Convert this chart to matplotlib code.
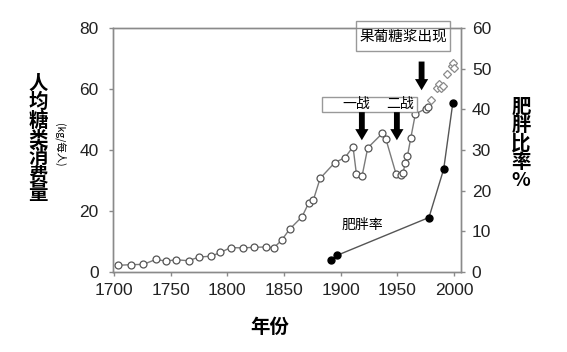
import matplotlib
matplotlib.use("Agg")
import matplotlib.pyplot as plt
from matplotlib.patches import Rectangle

# ---- data ----
sugar_years = [1704, 1715, 1726, 1737, 1746, 1755, 1766, 1775, 1786, 1794, 1803, 1814,
               1824, 1834, 1841, 1848, 1855, 1866, 1872, 1876, 1882, 1895, 1904, 1911,
               1914, 1919, 1924, 1937, 1940, 1949, 1953, 1955, 1957, 1959, 1962, 1966,
               1975, 1977]
sugar_vals = [2.2, 2.4, 2.5, 4.1, 3.6, 4.0, 3.7, 4.9, 5.2, 6.4, 8.0, 7.9,
              8.1, 8.2, 7.9, 10.4, 14.0, 18.1, 22.7, 23.6, 30.7, 35.9, 37.5, 41.1,
              32.1, 31.5, 40.7, 45.5, 43.6, 32.1, 31.7, 32.3, 35.6, 38.0, 44.0, 51.8,
              53.5, 54.0]
hfcs_years = [1980, 1985, 1987, 1989, 1990, 1994, 1998, 1999, 2000]
hfcs_vals = [56.4, 60.3, 61.5, 60.4, 60.9, 64.9, 67.4, 68.5, 67.0]
obesity_years = [1892, 1897, 1978, 1991, 1999]
obesity_vals = [2.9, 4.1, 13.4, 25.3, 41.5]

x_ticks = [1700, 1750, 1800, 1850, 1900, 1950, 2000]
left_ticks = [0, 20, 40, 60, 80]
right_ticks = [0, 10, 20, 30, 40, 50, 60]

ylabel_left = "人均糖类消费量"
ylabel_unit = "(kg/每人)"
ylabel_right = "肥胖比率%"
xlabel = "年份"
hfcs_label = "果葡糖浆出现"
ww1_label = "一战"
ww2_label = "二战"
obesity_label = "肥胖率"

CJK = ['Noto Sans CJK SC', 'DejaVu Sans']
NUM = ['Liberation Sans', 'DejaVu Sans']
plt.rcParams['font.family'] = NUM

spine_c = '#8a8a8a'
fig = plt.figure(figsize=(5.67, 3.52), dpi=100)
ax = fig.add_axes([112.7/567, 1-272/352, (460.7-112.7)/567, (272-28)/352])
ax2 = ax.twinx()

ax.plot(sugar_years, sugar_vals, '-o', color='#7a7a7a', lw=1.0, ms=5,
        mfc='white', mec='#555555', mew=0.9, zorder=3)
ax.plot(hfcs_years, hfcs_vals, 'D', ls='none', ms=4.5, mfc='white',
        mec='#8a8a8a', mew=0.9, zorder=3)
ax2.plot(obesity_years, obesity_vals, '-o', color='#555555', lw=1.0, ms=5,
         mfc='black', mec='black', zorder=3)

ax.set_xlim(1699, 2006)
ax.set_ylim(0, 80)
ax2.set_ylim(0, 60)
ax.set_xticks(x_ticks)
ax.set_yticks(left_ticks)
ax2.set_yticks(right_ticks)

for a in (ax, ax2):
    for s in a.spines.values():
        s.set_color(spine_c)
        s.set_linewidth(1.0)
    a.tick_params(colors=spine_c, labelcolor='#222222', length=3, width=1.0,
                  labelsize=12.5)
ax.tick_params(axis='y', pad=7)
ax.tick_params(axis='x', pad=5)
ax2.tick_params(axis='y', pad=5)
ax.tick_params(axis='x', which='both', top=False)
ax2.tick_params(axis='x', top=False)

# boxes and arrows
ax.add_patch(Rectangle((1913.5, 72.3), 83, 9.9, fill=True, fc='white',
                       ec='#999999', lw=1.0, clip_on=False, zorder=5))
ax.text(1955, 77.2, hfcs_label, family=CJK, fontsize=10.5, ha='center',
        va='center', zorder=6, clip_on=False)
ax.add_patch(Rectangle((1883.3, 52.6), 83.8, 4.9, fill=True, fc='white',
                       ec='#999999', lw=1.0, zorder=5))
ax.text(1914.2, 55.1, ww1_label, family=CJK, fontsize=10, ha='center',
        va='center', zorder=6)
ax.text(1952.4, 55.1, ww2_label, family=CJK, fontsize=10, ha='center',
        va='center', zorder=6)

arrow_kw = dict(arrowstyle='simple,head_length=0.8,head_width=0.95,tail_width=0.42',
                color='black', lw=0, shrinkA=0, shrinkB=0)
for xa, y0, y1 in [(1918.8, 52.4, 43.2), (1949.7, 52.4, 43.2), (1971.5, 69.0, 59.6)]:
    ax.annotate('', xy=(xa, y1), xytext=(xa, y0), arrowprops=arrow_kw, zorder=6)

ax.text(1919, 15.3, obesity_label, family=CJK, fontsize=10, ha='center',
        va='center')

# axis labels
fig.text(270/567, 1-327/352, xlabel, family=CJK, fontsize=14, fontweight='bold',
         ha='center', va='center')
fig.text(38/567, 1-139/352, "\n".join(ylabel_left), family=CJK, fontsize=14,
         fontweight='bold', ha='center', va='center', linespacing=0.95)
fig.text(60/567, 1-145/352, ylabel_unit, family=CJK, fontsize=7.5, rotation=270,
         ha='center', va='center')
fig.text(521/567, 1-144/352, "\n".join(ylabel_right), family=CJK, fontsize=14,
         fontweight='bold', ha='center', va='center', linespacing=0.95)

fig.savefig('out.png', dpi=100)
